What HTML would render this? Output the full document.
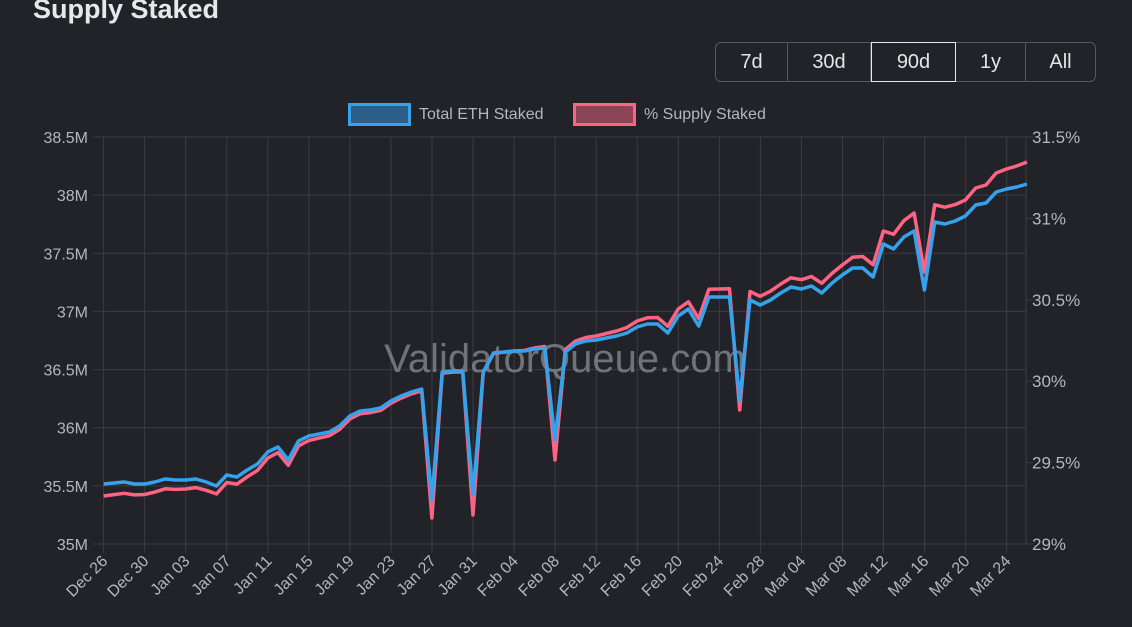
<!DOCTYPE html>
<html><head><meta charset="utf-8"><style>
html,body{margin:0;padding:0;background:#212328;width:1132px;height:627px;overflow:hidden;font-family:"Liberation Sans",sans-serif}
.title{position:absolute;left:33px;top:-6px;font-size:27px;font-weight:bold;color:#e6e8ea}
.btns{position:absolute;left:715px;top:42px;width:381px;height:40px;border:1px solid #55585d;border-radius:6px;display:flex;box-sizing:border-box}
.btns div{color:#e3e5e8;font-size:20px;display:flex;align-items:center;justify-content:center;border-right:1px solid #55585d;box-sizing:border-box}
.btns div:last-child{border-right:none}
</style></head><body>
<div class="title">Supply Staked</div>
<div class="btns">
<div style="width:72px">7d</div><div style="width:83px">30d</div><div style="width:85px;border:1px solid #e8e8e8;margin-top:-1px;height:40px">90d</div><div style="width:70px">1y</div><div style="flex:1">All</div>
</div>
<svg id="c" width="1132" height="627" style="position:absolute;left:0;top:0"></svg>
<script>
(function(){
var s=document.getElementById('c'),h='';
var x0=103.6,dx=10.26,yT=137,yB=544;
for(var i=0;i<=22;i++){var x=x0+i*41.05;h+='<line x1="'+x+'" y1="'+yT+'" x2="'+x+'" y2="'+(yB+9)+'" stroke="#3b3d42" stroke-width="1"/>';}
var yl=['38.5M','38M','37.5M','37M','36.5M','36M','35.5M','35M'];
for(var k=0;k<8;k++){var y=yT+k*(yB-yT)/7;h+='<line x1="93" y1="'+y+'" x2="1026" y2="'+y+'" stroke="#3b3d42" stroke-width="1"/>';
h+='<text x="88" y="'+(y+6)+'" text-anchor="end" font-size="16" fill="#b4b7bb">'+yl[k]+'</text>';}
var yr=['31.5%','31%','30.5%','30%','29.5%','29%'];
for(var k=0;k<6;k++){var y=yT+k*(yB-yT)/5;h+='<line x1="1026" y1="'+y+'" x2="1033" y2="'+y+'" stroke="#3b3d42"/>';
h+='<text x="1032" y="'+(y+6)+'" font-size="17" fill="#b4b7bb">'+yr[k]+'</text>';}
h+='<line x1="1026" y1="'+yT+'" x2="1026" y2="'+yB+'" stroke="#3b3d42"/>';
var xl=['Dec 26','Dec 30','Jan 03','Jan 07','Jan 11','Jan 15','Jan 19','Jan 23','Jan 27','Jan 31','Feb 04','Feb 08','Feb 12','Feb 16','Feb 20','Feb 24','Feb 28','Mar 04','Mar 08','Mar 12','Mar 16','Mar 20','Mar 24'];
for(var i=0;i<23;i++){var x=x0+i*41.05+5,y=562;h+='<text transform="translate('+x+','+y+') rotate(-45)" text-anchor="end" font-size="16" fill="#b4b7bb">'+xl[i]+'</text>';}
var b=[484,483,482,484,484,482,479,480,480,479,482,486,475,477,470,464,452,447,460,441,436,434,432,426,416,411,410,408,401,396,392,389,500,372,371,371,495,372,353,352,351,351,349,348,440,352,344,341,340,338,336,333,327,324,324,333,316,309,326,297,297,297,400,300,305,300,293,287,289,286,293,283,275,268,268,277,244,249,237,231,290,222,224,221,216,205,203,192,189,187,184];
var kn=[[0,12],[24,3],[40,0],[52,-6],[60,-8],[72,-10],[76,-13],[79,-18],[84,-16],[90,-22]];
function off(i){for(var j=0;j<kn.length-1;j++){if(i<=kn[j+1][0]){var a=kn[j],c=kn[j+1];return a[1]+(c[1]-a[1])*(i-a[0])/(c[0]-a[0]);}}return -22;}
var dips={32:518,36:515,44:460,62:410,80:272};
var pb='',pp='';
for(var i=0;i<b.length;i++){var x=(x0+i*dx).toFixed(1);pb+=x+','+b[i]+' ';var p=dips[i]!==undefined?dips[i]:b[i]+off(i);pp+=x+','+p.toFixed(1)+' ';}
h+='<text x="565" y="372" text-anchor="middle" font-size="40" fill="#8a8d93" opacity="0.75">ValidatorQueue.com</text>';
h+='<polyline points="'+pp+'" fill="none" stroke="#ff6384" stroke-width="3.5" stroke-linejoin="round"/>';
h+='<polyline points="'+pb+'" fill="none" stroke="#36a2eb" stroke-width="3.5" stroke-linejoin="round"/>';
h+='<rect x="349.5" y="104.5" width="60" height="20" fill="#2d5f86" stroke="#36a2eb" stroke-width="3"/>';
h+='<text x="419" y="119" font-size="16" fill="#b4b7bb">Total ETH Staked</text>';
h+='<rect x="574.5" y="104.5" width="60" height="20" fill="#8c4556" stroke="#ff6384" stroke-width="3"/>';
h+='<text x="644" y="119" font-size="16" fill="#b4b7bb">% Supply Staked</text>';
s.innerHTML=h;
})();
</script>
</body></html>
